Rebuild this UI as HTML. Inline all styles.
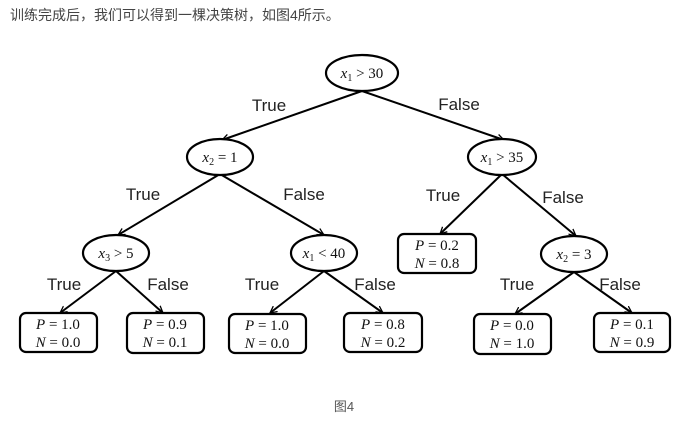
<!DOCTYPE html>
<html><head><meta charset="utf-8"><style>
html,body{margin:0;padding:0;background:#fff;width:678px;height:421px;overflow:hidden}
svg{display:block}
.l{font-family:"Liberation Sans","DejaVu Sans",sans-serif;font-size:17px;fill:#222}
.m{font-family:"Liberation Serif",serif;font-size:15px;fill:#111}
.i{font-style:italic}
</style></head><body>
<svg width="678" height="421" xmlns="http://www.w3.org/2000/svg">
<defs><marker id="a" markerWidth="8" markerHeight="8" refX="7" refY="4" orient="auto" markerUnits="userSpaceOnUse"><path d="M0,0.5 L7,4 L0,7.5" fill="none" stroke="#000" stroke-width="1.3"/></marker></defs>
<text x="10" y="20" style="font-family:'Liberation Sans','Noto Sans CJK SC',sans-serif;font-size:14px;fill:#444">训练完成后，我们可以得到一棵决策树，如图4所示。</text>
<g stroke="#000" stroke-width="2" fill="none" marker-end="url(#a)">
<line x1="362" y1="91" x2="222" y2="140"/>
<line x1="362" y1="91" x2="504" y2="140"/>
<line x1="220" y1="174" x2="118" y2="235"/>
<line x1="220" y1="174" x2="324" y2="235"/>
<line x1="502" y1="174" x2="440" y2="234"/>
<line x1="502" y1="174" x2="576" y2="236"/>
<line x1="116" y1="271" x2="60" y2="313"/>
<line x1="116" y1="271" x2="163" y2="313"/>
<line x1="324" y1="271" x2="270" y2="313"/>
<line x1="324" y1="271" x2="383" y2="313"/>
<line x1="574" y1="272" x2="515" y2="314"/>
<line x1="574" y1="272" x2="632" y2="313"/>
</g>
<g stroke="#000" stroke-width="2.2" fill="#fff">
<ellipse cx="362" cy="73" rx="36" ry="18"/>
<ellipse cx="220" cy="157" rx="33" ry="18"/>
<ellipse cx="502" cy="157" rx="34" ry="18"/>
<ellipse cx="116" cy="253" rx="33" ry="18"/>
<ellipse cx="324" cy="253" rx="33" ry="18"/>
<ellipse cx="574" cy="254" rx="33" ry="18"/>
<rect x="398" y="234" width="78" height="39" rx="6"/>
<rect x="20" y="313" width="77" height="39" rx="6"/>
<rect x="127" y="313" width="77" height="40" rx="6"/>
<rect x="229" y="314" width="77" height="39" rx="6"/>
<rect x="344" y="313" width="78" height="39" rx="6"/>
<rect x="474" y="314" width="77" height="40" rx="6"/>
<rect x="594" y="313" width="76" height="39" rx="6"/>
</g>
<g class="m" text-anchor="middle">
<text x="362" y="78"><tspan class="i">x</tspan><tspan font-size="10" dy="3">1</tspan><tspan dy="-3"> &gt; 30</tspan></text>
<text x="220" y="162"><tspan class="i">x</tspan><tspan font-size="10" dy="3">2</tspan><tspan dy="-3"> = 1</tspan></text>
<text x="502" y="162"><tspan class="i">x</tspan><tspan font-size="10" dy="3">1</tspan><tspan dy="-3"> &gt; 35</tspan></text>
<text x="116" y="258"><tspan class="i">x</tspan><tspan font-size="10" dy="3">3</tspan><tspan dy="-3"> &gt; 5</tspan></text>
<text x="324" y="258"><tspan class="i">x</tspan><tspan font-size="10" dy="3">1</tspan><tspan dy="-3"> &lt; 40</tspan></text>
<text x="574" y="259"><tspan class="i">x</tspan><tspan font-size="10" dy="3">2</tspan><tspan dy="-3"> = 3</tspan></text>
<text x="437" y="250"><tspan class="i">P</tspan> = 0.2</text><text x="437" y="268"><tspan class="i">N</tspan> = 0.8</text>
<text x="58" y="329"><tspan class="i">P</tspan> = 1.0</text><text x="58" y="347"><tspan class="i">N</tspan> = 0.0</text>
<text x="165" y="329"><tspan class="i">P</tspan> = 0.9</text><text x="165" y="347"><tspan class="i">N</tspan> = 0.1</text>
<text x="267" y="330"><tspan class="i">P</tspan> = 1.0</text><text x="267" y="348"><tspan class="i">N</tspan> = 0.0</text>
<text x="383" y="329"><tspan class="i">P</tspan> = 0.8</text><text x="383" y="347"><tspan class="i">N</tspan> = 0.2</text>
<text x="512" y="330"><tspan class="i">P</tspan> = 0.0</text><text x="512" y="348"><tspan class="i">N</tspan> = 1.0</text>
<text x="632" y="329"><tspan class="i">P</tspan> = 0.1</text><text x="632" y="347"><tspan class="i">N</tspan> = 0.9</text>
</g>
<g class="l" text-anchor="middle">
<text x="269" y="111">True</text><text x="459" y="110">False</text>
<text x="143" y="200">True</text><text x="304" y="200">False</text>
<text x="443" y="201">True</text><text x="563" y="203">False</text>
<text x="64" y="290">True</text><text x="168" y="290">False</text>
<text x="262" y="290">True</text><text x="375" y="290">False</text>
<text x="517" y="290">True</text><text x="620" y="290">False</text>
</g>
<text x="344" y="411" text-anchor="middle" style="font-family:'Liberation Sans','Noto Sans CJK SC',sans-serif;font-size:13px;fill:#555">图4</text>
</svg>
</body></html>
